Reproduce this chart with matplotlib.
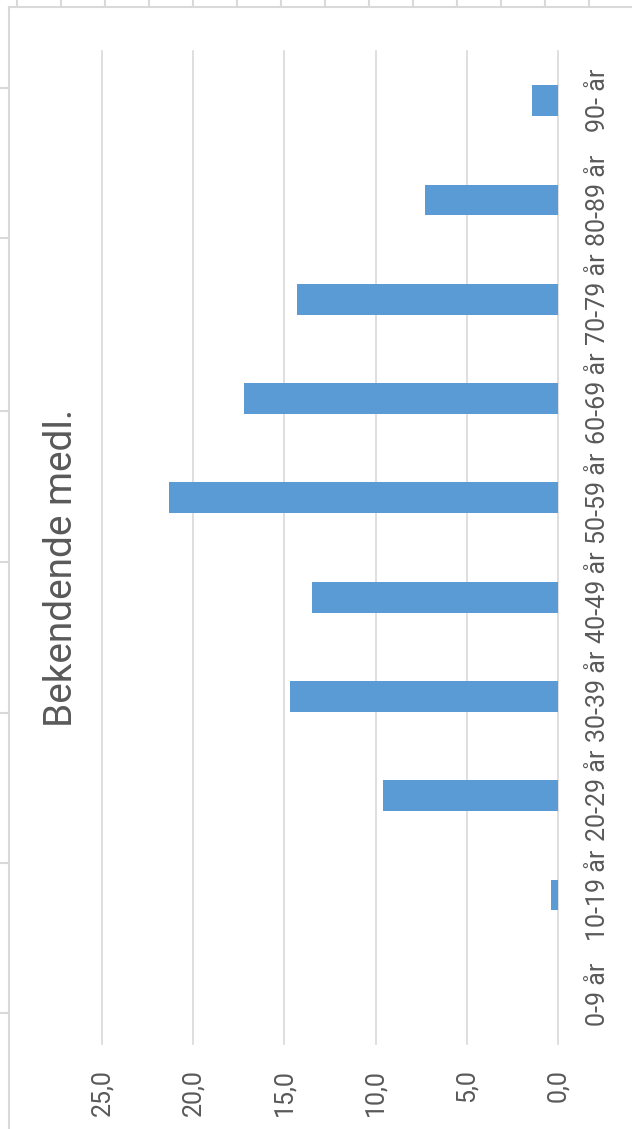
import matplotlib.pyplot as plt
from matplotlib.lines import Line2D

plt.rcParams['font.family'] = ['Roboto', 'DejaVu Sans']

grupper = ["0-9 år", "10-19 år", "20-29 år", "30-39 år", "40-49 år",
           "50-59 år", "60-69 år", "70-79 år", "80-89 år", "90- år"]
andel = [0.0, 0.4, 9.6, 14.7, 13.5, 21.3, 17.2, 14.3, 7.3, 1.4]
verdier_akse = [0, 5, 10, 15, 20, 25]
verdi_etiketter = ["0,0", "5,0", "10,0", "15,0", "20,0", "25,0"]
tittel = "Bekendende medl."

W, H = 632, 1129
gra = '#595959'
linje = '#D9D9D9'

fig = plt.figure(figsize=(W / 100, H / 100), dpi=100)

# excel-ark rundt diagrammet
fig.add_artist(Line2D([9 / W, 9 / W], [0, 1 - 7 / H], color=linje, lw=1.5))
fig.add_artist(Line2D([9 / W, 1], [1 - 7 / H, 1 - 7 / H], color=linje, lw=1.5))
for x in range(17, W, 44):
    fig.add_artist(Line2D([x / W, x / W], [1 - 6 / H, 1], color=linje, lw=1.5))
for y in [88, 238, 411, 562, 713, 863, 1013]:
    fig.add_artist(Line2D([0, 8 / W], [1 - y / H, 1 - y / H], color=linje, lw=1.5))

ax = fig.add_axes([102 / W, 85 / H, 456 / W, 993 / H])
ax.barh(range(len(grupper)), andel, height=0.31, color='#5B9BD5', zorder=2)
ax.set_xlim(25, 0)
ax.set_ylim(-0.5, len(grupper) - 0.5)

ax.set_xticks(verdier_akse)
ax.set_xticklabels(verdi_etiketter, rotation=90, fontsize=18, color=gra)
ax.tick_params(axis='x', length=0, pad=18)

ax.yaxis.tick_right()
ax.set_yticks(range(len(grupper)))
ax.set_yticklabels(grupper, rotation=90, va='center', fontsize=18, color=gra)
ax.tick_params(axis='y', length=0, pad=20)

for s in ax.spines.values():
    s.set_visible(False)
ax.grid(axis='x', color=linje, linewidth=1.2)
ax.grid(axis='y', visible=False)
for l in ax.get_xgridlines():
    l.set_clip_on(False)
ax.set_axisbelow(True)

fig.text(62 / W, 1 - 568 / H, tittel, rotation=90, ha='center', va='center',
         fontsize=28, color=gra)

fig.savefig('out.png', dpi=100)
